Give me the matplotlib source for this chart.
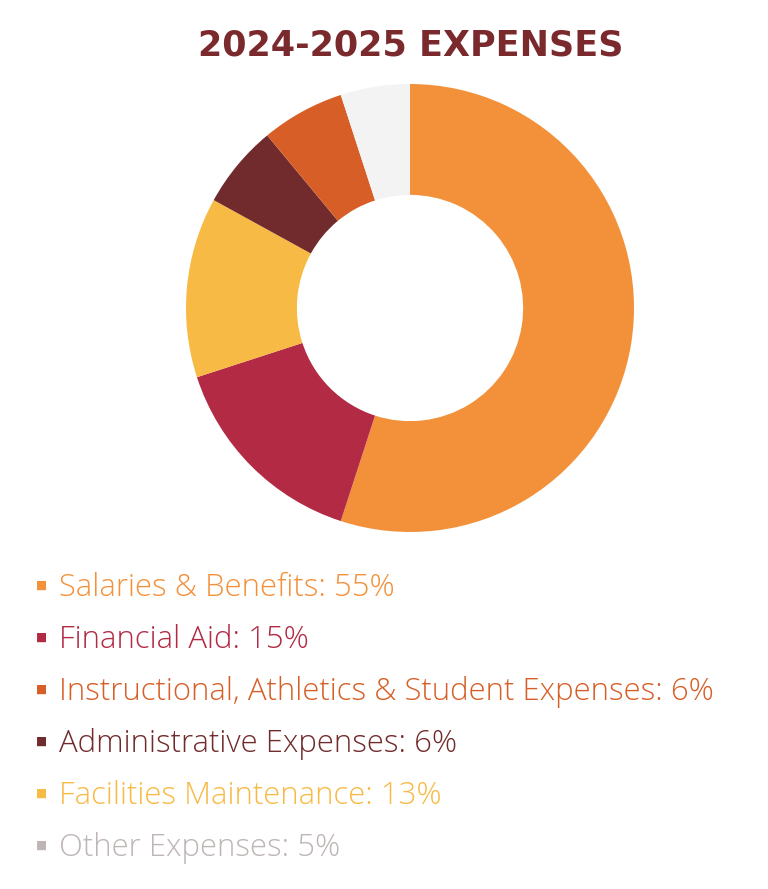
import matplotlib
matplotlib.use("Agg")
import matplotlib.pyplot as plt

title = "2024-2025 EXPENSES"
pie_labels = ["Salaries & Benefits", "Financial Aid", "Facilities Maintenance",
              "Administrative Expenses", "Instructional, Athletics & Student Expenses",
              "Other Expenses"]
pie_values = [55, 15, 13, 6, 6, 5]
pie_colors = ["#F3913B", "#B22A43", "#F7BA44", "#722B2C", "#D75F27", "#F3F3F3"]

legend_labels = ["Salaries & Benefits", "Financial Aid",
                 "Instructional, Athletics & Student Expenses",
                 "Administrative Expenses", "Facilities Maintenance", "Other Expenses"]
legend_values = [55, 15, 6, 6, 13, 5]
legend_text_colors = ["#F3913B", "#B22A43", "#D75F27", "#722B2C", "#F7BA44", "#BFB5B5"]

W, H = 768, 889
fig = plt.figure(figsize=(W / 100, H / 100), dpi=100)
fig.patch.set_facecolor("white")

cx, cy, R = 410, 308, 224
ax = fig.add_axes([(cx - R) / W, (H - cy - R) / H, 2 * R / W, 2 * R / H])
ax.pie(pie_values, colors=pie_colors, startangle=90, counterclock=False,
       radius=1, wedgeprops=dict(width=0.495, linewidth=0))
ax.set_xlim(-1, 1)
ax.set_ylim(-1, 1)
ax.set_aspect("equal")
ax.axis("off")

fig.text(411 / W, 1 - 45 / H, title, ha="center", va="center",
         fontsize=25.2, fontweight="bold", color="#7A2A2C", family=["DejaVu Sans"])

y0, dy = 585, 52
for i, (lab, val, col) in enumerate(zip(legend_labels, legend_values, legend_text_colors)):
    y = y0 + i * dy
    fig.text(42 / W, 1 - y / H, "\u25A0", ha="center", va="center", fontsize=8.5,
             color=col, family=["DejaVu Sans"])
    fig.text(59 / W, 1 - (y + 3) / H, f"{lab}: {val}%", ha="left", va="center",
             fontsize=22.4, fontweight="light", color=col, family=["Open Sans", "DejaVu Sans"])

fig.savefig("out.png", dpi=100, facecolor="white")
